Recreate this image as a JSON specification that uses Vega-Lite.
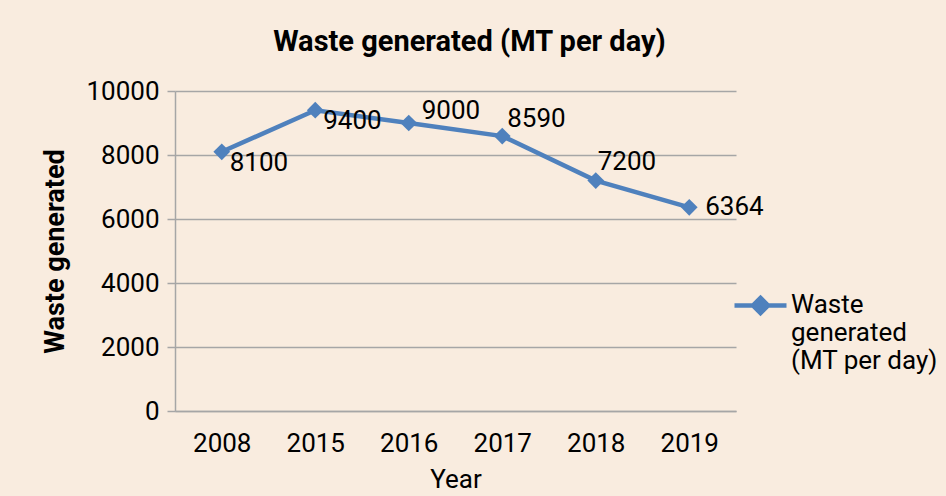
{
  "$schema": "https://vega.github.io/schema/vega-lite/v6.json",
  "width": 561,
  "height": 320,
  "autosize": {"type": "none"},
  "padding": {"left": 175, "top": 91, "right": 210, "bottom": 85},
  "background": "#F9ECDF",
  "config": {
    "font": "Roboto",
    "view": {"stroke": null},
    "axis": {"labelFont": "Roboto", "titleFont": "Roboto", "labelColor": "#000000", "titleColor": "#000000"}
  },
  "title": {
    "text": "Waste generated (MT per day)",
    "font": "Roboto",
    "fontSize": 29,
    "fontWeight": "bold",
    "color": "#000000",
    "anchor": "middle",
    "dx": 14,
    "offset": 21
  },
  "data": {
    "values": [
      {"year": "2008", "waste": 8100, "series": "Waste generated (MT per day)"},
      {"year": "2015", "waste": 9400, "series": "Waste generated (MT per day)"},
      {"year": "2016", "waste": 9000, "series": "Waste generated (MT per day)"},
      {"year": "2017", "waste": 8590, "series": "Waste generated (MT per day)"},
      {"year": "2018", "waste": 7200, "series": "Waste generated (MT per day)"},
      {"year": "2019", "waste": 6364, "series": "Waste generated (MT per day)"}
    ]
  },
  "encoding": {
    "x": {
      "field": "year",
      "type": "ordinal",
      "scale": {"paddingInner": 0, "paddingOuter": 0},
      "axis": {
        "title": "Year",
        "labelAngle": 0,
        "labelFontSize": 26,
        "titleFontSize": 26,
        "titleFontWeight": "normal",
        "labelPadding": 19,
        "titlePadding": 10,
        "ticks": false,
        "domainColor": "#A6A6A6",
        "domainWidth": 1.5
      }
    },
    "y": {
      "field": "waste",
      "type": "quantitative",
      "scale": {"domain": [0, 10000], "nice": false},
      "axis": {
        "title": "Waste generated",
        "values": [0, 2000, 4000, 6000, 8000, 10000],
        "format": "d",
        "labelFontSize": 26,
        "titleFontSize": 27,
        "titleFontWeight": "bold",
        "labelPadding": 8,
        "titlePadding": 16,
        "tickSize": 8,
        "tickColor": "#A6A6A6",
        "tickWidth": 1.5,
        "domainColor": "#A6A6A6",
        "domainWidth": 1.5,
        "grid": true,
        "gridColor": "#A6A6A6",
        "gridWidth": 1.5
      }
    }
  },
  "layer": [
    {
      "mark": {"type": "line", "strokeWidth": 4.5},
      "encoding": {
        "color": {
          "field": "series",
          "type": "nominal",
          "scale": {"domain": ["Waste generated (MT per day)"], "range": ["#4F81BD"]},
          "legend": {
            "title": null,
            "orient": "none",
            "legendX": 557,
            "legendY": 186,
            "labelFont": "Roboto",
            "labelFontSize": 26,
            "labelColor": "#000000",
            "labelLineHeight": 28,
            "labelBaseline": "top",
            "labelLimit": 300,
            "labelOffset": 2,
            "symbolSize": 2704,
            "symbolType": "M-1,0L1,0M0,-0.29L0.29,0L0,0.29L-0.29,0Z",
            "symbolStrokeWidth": 4.5,
            "labelExpr": "['Waste', 'generated', '(MT per day)']",
            "encode": {
              "symbols": {"update": {"fill": {"value": "#4F81BD"}, "stroke": {"value": "#4F81BD"}, "opacity": {"value": 1}}},
              "labels": {"update": {"dy": {"value": -14}}}
            }
          }
        }
      }
    },
    {
      "mark": {"type": "point", "shape": "diamond", "filled": true, "size": 280, "opacity": 1, "color": "#4F81BD"},
      "encoding": {}
    },
    {
      "transform": [{"filter": "datum.year == '2008' || datum.year == '2015'"}],
      "mark": {"type": "text", "align": "left", "baseline": "middle", "dx": 8, "dy": 11, "fontSize": 26, "font": "Roboto", "color": "#000000"},
      "encoding": {"text": {"field": "waste", "type": "quantitative", "format": "d"}}
    },
    {
      "transform": [{"filter": "datum.year == '2016'"}],
      "mark": {"type": "text", "align": "left", "baseline": "middle", "dx": 13, "dy": -12, "fontSize": 26, "font": "Roboto", "color": "#000000"},
      "encoding": {"text": {"field": "waste", "type": "quantitative", "format": "d"}}
    },
    {
      "transform": [{"filter": "datum.year == '2017'"}],
      "mark": {"type": "text", "align": "left", "baseline": "middle", "dx": 5, "dy": -17, "fontSize": 26, "font": "Roboto", "color": "#000000"},
      "encoding": {"text": {"field": "waste", "type": "quantitative", "format": "d"}}
    },
    {
      "transform": [{"filter": "datum.year == '2018'"}],
      "mark": {"type": "text", "align": "left", "baseline": "middle", "dx": 2, "dy": -19, "fontSize": 26, "font": "Roboto", "color": "#000000"},
      "encoding": {"text": {"field": "waste", "type": "quantitative", "format": "d"}}
    },
    {
      "transform": [{"filter": "datum.year == '2019'"}],
      "mark": {"type": "text", "align": "left", "baseline": "middle", "dx": 16, "dy": 0, "fontSize": 26, "font": "Roboto", "color": "#000000"},
      "encoding": {"text": {"field": "waste", "type": "quantitative", "format": "d"}}
    }
  ]
}
